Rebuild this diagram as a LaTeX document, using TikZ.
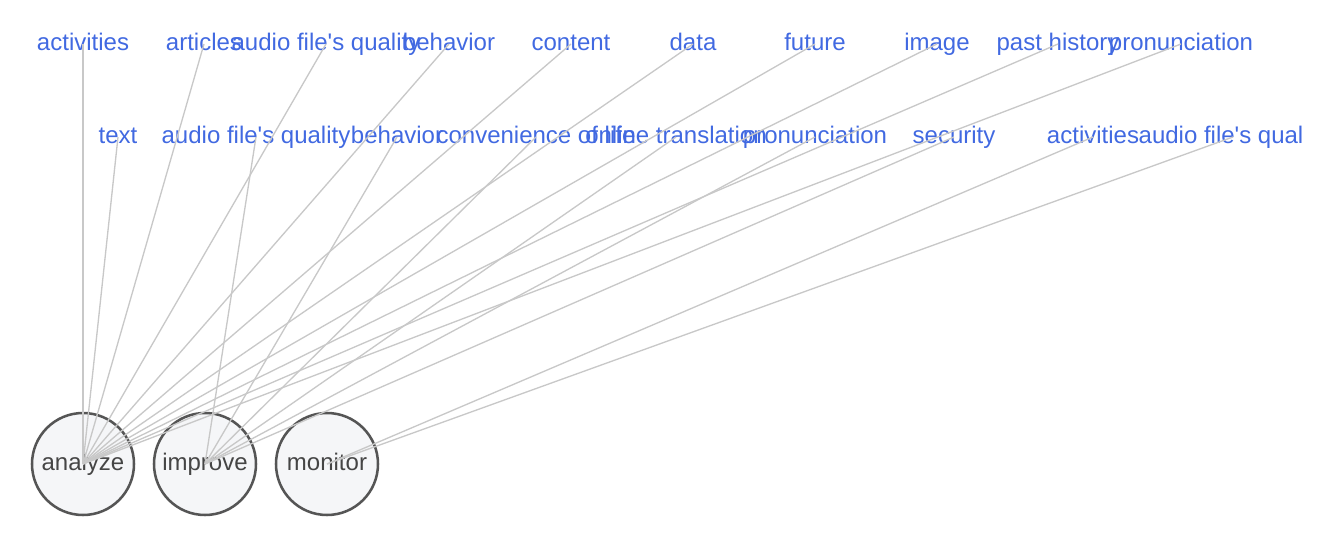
\documentclass[tikz,border=0pt]{standalone}
\usepackage{fontspec}
\setmainfont{Liberation Sans}[Ligatures=TeXOff]
\usepackage{tikz}
\definecolor{labelblue}{HTML}{4169E1}
\definecolor{ringgray}{HTML}{555555}
\definecolor{ringfill}{HTML}{F5F6F8}
\definecolor{edgegray}{HTML}{C8C8C8}
\tikzstyle{word} = [text=labelblue, inner sep=0pt, text height=13pt,
                 text depth=3.8pt, font=\fontsize{18}{20}\selectfont]
\tikzstyle{hub} = [circle, draw=ringgray, fill=ringfill, line width=1.9pt,
                 minimum size=76.5pt, inner sep=0pt, text=black!73,
                 text height=13pt, text depth=3.8pt,
                 font=\fontsize{18}{20}\selectfont]
\tikzstyle{branch} = [draw=edgegray, line width=1pt]

\begin{document}
\begin{tikzpicture}[x=0.75pt,y=-0.75pt]

\useasboundingbox (0,0) rectangle (1329,539);

    	%hubs
\node [hub] at (83,464) (an) {analyze};
\node [hub] at (205,464) (im) {improve};
\node [hub] at (327,464) (mo) {monitor};

    	%upper row
\node [word] at (83,44) (act) {activities};
\node [word] at (204,44) (art) {articles};
\node [word] at (326,44) (aud) {audio file's quality};
\node [word] at (449,44) (beh) {behavior};
\node [word] at (571,44) (con) {content};
\node [word] at (693,44) (dat) {data};
\node [word] at (815,44) (fut) {future};
\node [word] at (937,44) (img) {image};
\node [word] at (1058,44) (past) {past history};
\node [word] at (1181,44) (pron) {pronunciation};

    	%lower row
\node [word] at (118,137) (txt) {text};
\node [word] at (256,137) (aud2) {audio file's quality};
\node [word] at (397,137) (beh2) {behavior};
\node [word] at (536,137) (conv) {convenience of life};
\node [word] at (676,137) (online) {online translation};
\node [word] at (815,137) (pron2) {pronunciation};
\node [word] at (954,137) (sec) {security};
\node [word] at (1093,137) (act2) {activities};
\node [word] at (1233,137) (aud3) {audio file's qual\phantom{ity}};

\path [branch] (act.center) -- (an.center);
\path [branch] (art.center) -- (an.center);
\path [branch] (aud.center) -- (an.center);
\path [branch] (beh.center) -- (an.center);
\path [branch] (con.center) -- (an.center);
\path [branch] (dat.center) -- (an.center);
\path [branch] (fut.center) -- (an.center);
\path [branch] (img.center) -- (an.center);
\path [branch] (past.center) -- (an.center);
\path [branch] (pron.center) -- (an.center);
\path [branch] (txt.center) -- (an.center);
\path [branch] (aud2.center) -- (im.center);
\path [branch] (beh2.center) -- (im.center);
\path [branch] (conv.center) -- (im.center);
\path [branch] (online.center) -- (im.center);
\path [branch] (pron2.center) -- (im.center);
\path [branch] (sec.center) -- (im.center);
\path [branch] (act2.center) -- (mo.center);
\path [branch] (aud3.center) -- (mo.center);

\end{tikzpicture}
\end{document}
